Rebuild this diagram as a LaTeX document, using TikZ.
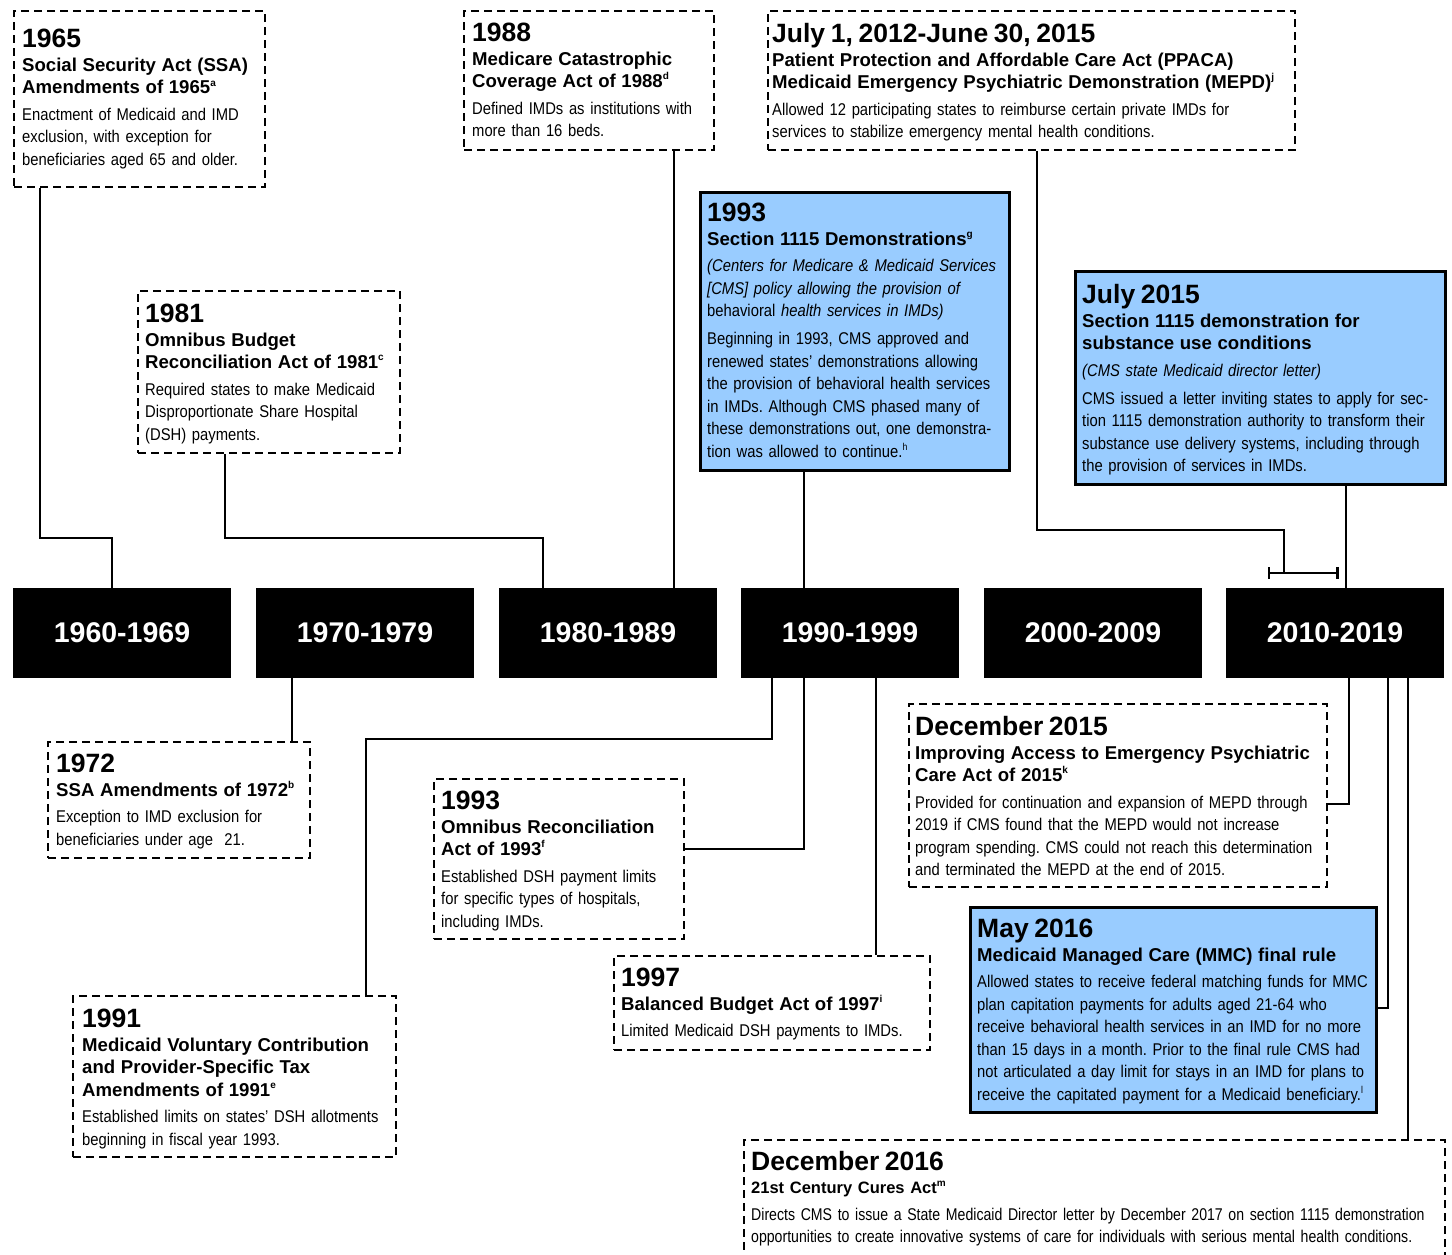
\documentclass[tikz,border=0pt]{standalone}
\usepackage{fontspec}
\setmainfont{Liberation Sans}
\newfontfamily\narrowf[FakeStretch=0.87]{Liberation Sans}
\newfontfamily\narrowdf[FakeStretch=0.83]{Liberation Sans}
\usetikzlibrary{calc,arrows.meta}
\definecolor{evblue}{RGB}{153,204,255}
\frenchspacing
\newcommand\hd[1]{{\fontsize{26.5}{22.5}\selectfont\bfseries #1}}
\newcommand\subf{\fontsize{18.6}{22.5}\selectfont\bfseries}
\newcommand\bodyf{\narrowf\fontsize{17}{22.5}\selectfont\frenchspacing}
\newcommand\bodydf{\narrowdf\fontsize{17}{22.5}\selectfont\frenchspacing}
\newcommand\fnm[1]{\raisebox{0.42em}{\fontsize{10}{10}\selectfont #1}}
\tikzset{
  evd/.style={draw, line width=2.4pt, dash pattern=on 8pt off 5pt, fill=white, anchor=north west, inner sep=0pt},
  evb/.style={draw, line width=2.6pt, fill=evblue, anchor=north west, inner sep=0pt},
  txt/.style={anchor=north west, inner sep=0pt, text width=720pt, align=left, font=\fontsize{17}{22.5}\selectfont\frenchspacing},
  dec/.style={fill=black, text=white, minimum width=218pt, minimum height=90pt, inner sep=0pt, font=\fontsize{28.5}{30}\selectfont\bfseries},
  conn/.style={line width=2.4pt}
}
\begin{document}
\begin{tikzpicture}[x=1pt,y=-1pt]
\useasboundingbox (0,0) rectangle (1452,1255);
\clip (0,0) rectangle (1452,1255);
\fill[white] (0,0) rectangle (1452,1255);

% decade bars
\node[dec] (d1) at (122,633) {1960-1969};
\node[dec] (d2) at (365,633) {1970-1979};
\node[dec] (d3) at (608,633) {1980-1989};
\node[dec] (d4) at (850,633) {1990-1999};
\node[dec] (d5) at (1093,633) {2000-2009};
\node[dec] (d6) at (1335,633) {2010-2019};

% event boxes
\node[evd, minimum width=251pt, minimum height=176pt] (b1965) at (13,10) {};
\node[evd, minimum width=262pt, minimum height=162pt] (b1981) at (137,290) {};
\node[evd, minimum width=250pt, minimum height=139pt] (b1988) at (463,10) {};
\node[evb, minimum width=309pt, minimum height=278pt] (b1993s) at (699,191) {};
\node[evd, minimum width=527pt, minimum height=139pt] (b2012) at (767,10) {};
\node[evb, minimum width=370pt, minimum height=213pt] (b2015j) at (1074,270) {};
\node[evd, minimum width=262pt, minimum height=116pt] (b1972) at (47,741) {};
\node[evd, minimum width=250pt, minimum height=160pt] (b1993o) at (433,778) {};
\node[evd, minimum width=323pt, minimum height=161pt] (b1991) at (72,995) {};
\node[evd, minimum width=316pt, minimum height=94pt] (b1997) at (613,955) {};
\node[evd, minimum width=418pt, minimum height=183pt] (b2015d) at (908,703) {};
\node[evb, minimum width=406pt, minimum height=205pt] (b2016m) at (969,906) {};
\node[evd, minimum width=701pt, minimum height=160pt] (b2016d) at (743,1139) {};

% texts
\node[txt] (t1965) at (22,29.2) {\hd{1965}\\[1pt]{\subf Social Security Act (SSA)\\ Amendments of 1965\fnm{a}}\\[4pt]{\bodyf Enactment of Medicaid and IMD\\ exclusion, with exception for\\ beneficiaries aged 65 and older.}};
\node[txt] (t1981) at (145,304.1) {\hd{1981}\\[1pt]{\subf Omnibus Budget\\ Reconciliation Act of 1981\fnm{c}}\\[4pt]{\bodyf Required states to make Medicaid\\ Disproportionate Share Hospital\\ (DSH) payments.}};
\node[txt] (t1988) at (472,23.1) {\hd{1988}\\[1pt]{\subf Medicare Catastrophic\\ Coverage Act of 1988\fnm{d}}\\[4pt]{\bodyf Defined IMDs as institutions with\\ more than 16 beds.}};
\node[txt] (t1993s) at (707,203.1) {\hd{1993}\\[1pt]{\subf Section 1115 Demonstrations\fnm{g}}\\[4pt]{\bodyf\itshape (Centers for Medicare \& Medicaid Services\\ {[}CMS{]} policy allowing the provision of\\ \upshape behavioral \itshape health services in IMDs)}\\[5.5pt]{\bodyf Beginning in 1993, CMS approved and\\ renewed states’ demonstrations allowing\\ the provision of behavioral health services\\ in IMDs. Although CMS phased many of\\ these demonstrations out, one demonstra-\\ tion was allowed to continue.\fnm{h}}};
\node[txt] (t2012) at (772,23.1) {\hd{July 1, 2012-June 30, 2015}\\[1pt]{\subf Patient Protection and Affordable Care Act (PPACA)\\ Medicaid Emergency Psychiatric Demonstration (MEPD)\fnm{j}}\\[4pt]{\bodyf Allowed 12 participating states to reimburse certain private IMDs for\\ services to stabilize emergency mental health conditions.}};
\node[txt] (t2015j) at (1082,284.1) {\hd{July 2015}\\[1pt]{\subf Section 1115 demonstration for\\ substance use conditions}\\[4pt]{\bodyf\itshape (CMS state Medicaid director letter)}\\[5.5pt]{\bodyf CMS issued a letter inviting states to apply for sec-\\ tion 1115 demonstration authority to transform their\\ substance use delivery systems, including through\\ the provision of services in IMDs.}};
\node[txt] (t1972) at (56,754.1) {\hd{1972}\\[1pt]{\subf SSA Amendments of 1972\fnm{b}}\\[4pt]{\bodyf Exception to IMD exclusion for\\ beneficiaries under age\ \ 21.}};
\node[txt] (t1993o) at (441,791.1) {\hd{1993}\\[1pt]{\subf Omnibus Reconciliation\\ Act of 1993\fnm{f}}\\[4pt]{\bodyf Established DSH payment limits\\ for specific types of hospitals,\\ including IMDs.}};
\node[txt] (t1991) at (82,1009.1) {\hd{1991}\\[1pt]{\subf Medicaid Voluntary Contribution\\ and Provider-Specific Tax\\ Amendments of 1991\fnm{e}}\\[4pt]{\bodyf Established limits on states’ DSH allotments\\ beginning in fiscal year 1993.}};
\node[txt] (t1997) at (621,968.1) {\hd{1997}\\[1pt]{\subf Balanced Budget Act of 1997\fnm{i}}\\[4pt]{\bodyf Limited Medicaid DSH payments to IMDs.}};
\node[txt] (t2015d) at (915,716.1) {\hd{December 2015}\\[1pt]{\subf Improving Access to Emergency Psychiatric\\ Care Act of 2015\fnm{k}}\\[4pt]{\bodyf Provided for continuation and expansion of MEPD through\\ 2019 if CMS found that the MEPD would not increase\\ program spending. CMS could not reach this determination\\ and terminated the MEPD at the end of 2015.}};
\node[txt] (t2016m) at (977,919.1) {\hd{May 2016}\\[1pt]{\subf Medicaid Managed Care (MMC) final rule}\\[4pt]{\bodyf Allowed states to receive federal matching funds for MMC\\ plan capitation payments for adults aged 21-64 who\\ receive behavioral health services in an IMD for no more\\ than 15 days in a month. Prior to the final rule CMS had\\ not articulated a day limit for stays in an IMD for plans to\\ receive the capitated payment for a Medicaid beneficiary.\fnm{l}}};
\node[txt] (t2016d) at (751,1150.6) {\hd{December 2016}\\[1pt]{\fontsize{16.5}{22.5}\selectfont\bfseries 21st Century Cures Act\fnm{m}}\\[4pt]{\bodydf Directs CMS to issue a State Medicaid Director letter by December 2017 on section 1115 demonstration\\ opportunities to create innovative systems of care for individuals with serious mental health conditions.}};

% connectors
\coordinate (p1) at ($(b1965.south west)+(27,0)$);
\coordinate (q1) at ($(d1.north west)+(99,0)$);
\draw[conn] (p1) |- ($(q1)+(0,-50)$) -- (q1);

\coordinate (p2) at ($(b1981.south west)+(88,0)$);
\coordinate (q2) at ($(d3.north west)+(44,0)$);
\draw[conn] (p2) |- ($(q2)+(0,-50)$) -- (q2);

\coordinate (p3) at ($(b1988.south west)+(211,0)$);
\draw[conn] (p3) -- (p3 |- d3.north);

\coordinate (p4) at ($(b1993s.south west)+(105,0)$);
\draw[conn] (p4) -- (p4 |- d4.north);

\coordinate (p5) at ($(b2012.south west)+(270,0)$);
\coordinate (tb) at ($(d6.north west)+(58,-15)$);
\draw[conn] (p5) |- ($(tb)+(0,-43)$) -- (tb);
\draw[conn, {Bar[width=12pt,line width=2.4pt]}-{Bar[width=12pt,line width=2.4pt]}] ($(tb)+(-16,0)$) -- ($(tb)+(55,0)$);

\coordinate (p6) at ($(b2015j.south west)+(272,0)$);
\draw[conn] (p6) -- (p6 |- d6.north);

\coordinate (p7) at ($(d2.south west)+(36,0)$);
\draw[conn] (p7) -- (p7 |- b1972.north);

\coordinate (p8) at ($(d4.south west)+(63,0)$);
\draw[conn] (p8) |- ($(b1993o.north east)+(0,71)$);

\coordinate (p9) at ($(d4.south west)+(31,0)$);
\coordinate (q9) at ($(b1991.north west)+(294,0)$);
\draw[conn] (p9) |- ($(q9)+(0,-256)$) -- (q9);

\coordinate (p10) at ($(d4.south west)+(135,0)$);
\draw[conn] (p10) -- (p10 |- b1997.north);

\coordinate (p11) at ($(d6.south west)+(123,0)$);
\draw[conn] (p11) |- ($(b2015d.north east)+(0,101)$);

\coordinate (p12) at ($(d6.south west)+(162,0)$);
\draw[conn] (p12) |- ($(b2016m.north east)+(0,102)$);

\coordinate (p13) at ($(d6.south west)+(182,0)$);
\draw[conn] (p13) -- (p13 |- b2016d.north);
\end{tikzpicture}
\end{document}
